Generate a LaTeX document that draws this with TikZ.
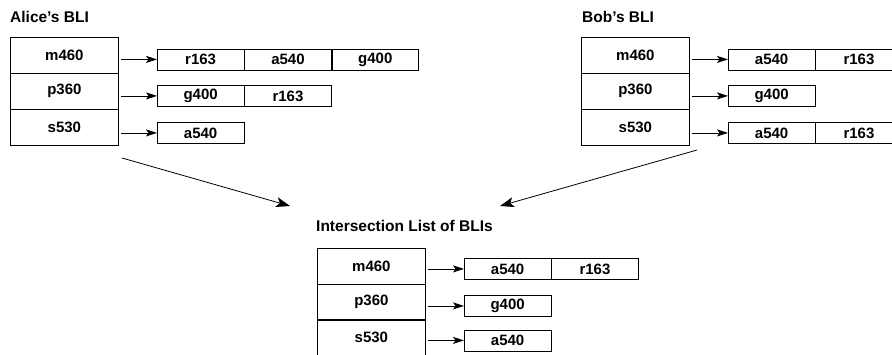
\documentclass[tikz,border=0pt]{standalone}
\usepackage{fontspec}
\setmainfont{Liberation Sans}
\usetikzlibrary{arrows.meta}
\begin{document}
\begin{tikzpicture}[x=1pt,y=-1pt,
  lw/.style={line width=0.8pt},
  keycell/.style={draw, lw, minimum width=108pt, minimum height=36pt, inner sep=0pt, anchor=north west, font=\bfseries\fontsize{15}{17}\selectfont},
  listcell/.style={draw, lw, minimum width=86.5pt, minimum height=21pt, inner sep=0pt, anchor=north west, font=\bfseries\fontsize{15}{17}\selectfont},
  title/.style={anchor=base west, inner sep=0pt, font=\bfseries\fontsize{15.5}{17}\selectfont},
  ptr/.style={lw, -{Stealth[length=11pt,width=7pt,inset=2.5pt]}, shorten <=2pt},
  big/.style={lw, -{Stealth[length=14pt,width=10pt,inset=3.5pt]}}
]
\clip (0,0) rectangle (892,354);
\useasboundingbox (0,0) rectangle (892,354);

% Alice
\node[title] (tA) at (10,22) {Alice’s BLI};
\node[keycell] (A1) at (10,37) {m460};
\node[keycell] (A2) at (10,72.5) {p360};
\node[keycell] (A3) at (10,109) {s530};
\node[listcell] (A11) at (157,48.5) {r163};
\node[listcell] (A12) at (A11.north east) {a540};
\node[listcell] (A13) at (A12.north east) {g400};
\node[listcell] (A21) at (157,85) {g400};
\node[listcell] (A22) at (A21.north east) {r163};
\node[listcell] (A31) at (157,122) {a540};
\draw[ptr] (A11.west -| A1.east) -- (A11.west);
\draw[ptr] (A21.west -| A2.east) -- (A21.west);
\draw[ptr] (A31.west -| A3.east) -- (A31.west);

% Bob
\node[title] (tB) at (582,22) {Bob’s BLI};
\node[keycell] (B1) at (581,37) {m460};
\node[keycell] (B2) at (581,72.5) {p360};
\node[keycell] (B3) at (581,109) {s530};
\node[listcell] (B11) at (728,48.5) {a540};
\node[listcell] (B12) at (B11.north east) {r163};
\node[listcell] (B21) at (728,85) {g400};
\node[listcell] (B31) at (728,122) {a540};
\node[listcell] (B32) at (B31.north east) {r163};
\draw[ptr] (B11.west -| B1.east) -- (B11.west);
\draw[ptr] (B21.west -| B2.east) -- (B21.west);
\draw[ptr] (B31.west -| B3.east) -- (B31.west);

% Intersection
\node[title] (tI) at (316,231) {Intersection List of BLIs};
\node[keycell] (I1) at (317,248) {m460};
\node[keycell] (I2) at (317,283.5) {p360};
\node[keycell] (I3) at (317,319) {s530};
\node[listcell] (I11) at (464,258) {a540};
\node[listcell] (I12) at (I11.north east) {r163};
\node[listcell] (I21) at (464,295) {g400};
\node[listcell] (I31) at (464,329.5) {a540};
\draw[ptr] (I11.west -| I1.east) -- (I11.west);
\draw[ptr] (I21.west -| I2.east) -- (I21.west);
\draw[ptr] (I31.west -| I3.east) -- (I31.west);

% merge arrows
\coordinate (aS) at (122,158);
\coordinate (aE) at (290,206);
\coordinate (bS) at (697,150);
\coordinate (bE) at (500,206);
\draw[big] (aS) -- (aE);
\draw[big] (bS) -- (bE);
\end{tikzpicture}
\end{document}
